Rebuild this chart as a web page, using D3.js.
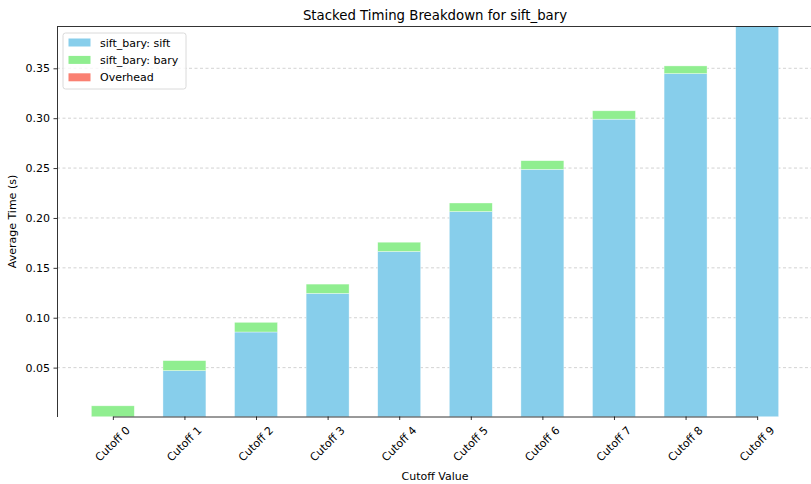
<!DOCTYPE html>
<html>
<head>
<meta charset="utf-8">
<script src="https://cdn.jsdelivr.net/npm/d3@7"></script>
<style>
  html, body { margin: 0; padding: 0; background: #fff; }
  svg { display: block; font-family: "DejaVu Sans", sans-serif; }
</style>
</head>
<body>
<svg id="chart" width="811" height="484"></svg>
<script>
// Average time per cutoff, split into stacked components
const categories = ["Cutoff 0", "Cutoff 1", "Cutoff 2", "Cutoff 3", "Cutoff 4",
                    "Cutoff 5", "Cutoff 6", "Cutoff 7", "Cutoff 8", "Cutoff 9"];
const siftValues  = [0.0, 0.047, 0.0857, 0.1244, 0.1664, 0.2064, 0.2487, 0.299, 0.3447, 0.400];
const baryValues  = [0.0117, 0.010, 0.0097, 0.0093, 0.0093, 0.0086, 0.0087, 0.0084, 0.0077, 0.008];
const overheadValues = [0, 0, 0, 0, 0, 0, 0, 0, 0, 0];
const yTicks = [0.05, 0.10, 0.15, 0.20, 0.25, 0.30, 0.35];

const seriesNames = ["sift_bary: sift", "sift_bary: bary", "Overhead"];
const seriesColors = ["#87CEEB", "#90EE90", "#FA8072"];

const rows = categories.map((c, i) => ({
  cat: c, s0: siftValues[i], s1: baryValues[i], s2: overheadValues[i]
}));
const stacked = d3.stack().keys(["s0", "s1", "s2"])(rows);

const svg = d3.select("#chart");
const plotLeft = 57, plotRight = 813, plotTop = 26.5, plotBottom = 416.5;

// Category positions: bar width is 0.6 of the step, with 0.78 step margin each side
const step = (plotRight - plotLeft) / (categories.length - 1 + 2 * 0.78);
const x = d3.scalePoint().domain(categories)
  .range([plotLeft + 0.78 * step, plotRight - 0.78 * step]);
const barW = 0.6 * step;

const y = d3.scaleLinear().domain([0.001, 0.3919]).range([plotBottom, plotTop]);

// Title
svg.append("text").attr("x", (plotLeft + plotRight) / 2).attr("y", 20)
  .attr("text-anchor", "middle").attr("font-size", 13.3).attr("fill", "#000")
  .text("Stacked Timing Breakdown for sift_bary");

// Grid
svg.append("g").selectAll("line").data(yTicks).join("line")
  .attr("x1", plotLeft).attr("x2", plotRight)
  .attr("y1", d => y(d)).attr("y2", d => y(d))
  .attr("stroke", "#b0b0b0").attr("stroke-opacity", 0.7)
  .attr("stroke-width", 0.8).attr("stroke-dasharray", "3,2.5");

// Bars
svg.append("defs").append("clipPath").attr("id", "plotClip")
  .append("rect").attr("x", plotLeft).attr("y", plotTop)
  .attr("width", plotRight - plotLeft).attr("height", plotBottom - plotTop);

const barsG = svg.append("g").attr("clip-path", "url(#plotClip)");
stacked.forEach((layer, li) => {
  barsG.append("g").selectAll("rect").data(layer).join("rect")
    .attr("x", d => x(d.data.cat) - barW / 2)
    .attr("width", barW)
    .attr("y", d => y(d[1]))
    .attr("height", d => Math.max(0, y(d[0]) - y(d[1])))
    .attr("fill", seriesColors[li])
    .attr("stroke", "#ffffff").attr("stroke-opacity", 0.6).attr("stroke-width", 0.6);
});

// Y axis
const yAxis = svg.append("g").attr("transform", `translate(${plotLeft},0)`)
  .call(d3.axisLeft(y).tickValues(yTicks).tickFormat(d3.format(".2f"))
    .tickSize(3.5).tickSizeOuter(0).tickPadding(3.5));
yAxis.attr("font-family", "DejaVu Sans, sans-serif");
yAxis.select(".domain").attr("stroke", "#000").attr("stroke-width", 0.8);
yAxis.selectAll(".tick line").attr("stroke", "#000").attr("stroke-width", 0.8);
yAxis.selectAll(".tick text").attr("font-size", 11).attr("fill", "#000");

// X axis
const xAxis = svg.append("g").attr("transform", `translate(0,${plotBottom})`)
  .call(d3.axisBottom(x).tickSize(3.5).tickSizeOuter(0).tickFormat(""));
xAxis.select(".domain").attr("stroke", "#000").attr("stroke-width", 0.8);
xAxis.selectAll(".tick line").attr("stroke", "#000").attr("stroke-width", 0.8);

svg.append("g").selectAll("text").data(categories).join("text")
  .attr("transform", d => `translate(${x(d)},${plotBottom + 27.5}) rotate(-45)`)
  .attr("text-anchor", "middle").attr("dominant-baseline", "central")
  .attr("font-size", 11).attr("fill", "#000").text(d => d);

// Top spine
svg.append("line").attr("x1", plotLeft).attr("x2", plotRight).attr("y1", plotTop).attr("y2", plotTop)
  .attr("stroke", "#000").attr("stroke-width", 0.8);

// Axis labels
svg.append("text").attr("x", (plotLeft + plotRight) / 2).attr("y", 480)
  .attr("text-anchor", "middle").attr("font-size", 11).attr("fill", "#000").text("Cutoff Value");
svg.append("text").attr("transform", `translate(16,${(plotTop + plotBottom) / 2}) rotate(-90)`)
  .attr("text-anchor", "middle").attr("font-size", 11).attr("fill", "#000").text("Average Time (s)");

// Legend
const lg = svg.append("g").attr("transform", "translate(63,33)");
lg.append("rect").attr("width", 123).attr("height", 56).attr("rx", 2.5)
  .attr("fill", "#fff").attr("fill-opacity", 0.8).attr("stroke", "#d0d0d0").attr("stroke-width", 0.8);
seriesNames.forEach((name, i) => {
  const ry = 10 + i * 17.4;
  lg.append("rect").attr("x", 5.5).attr("y", ry - 4.5).attr("width", 22).attr("height", 8)
    .attr("fill", seriesColors[i]);
  lg.append("text").attr("x", 37).attr("y", ry).attr("dominant-baseline", "central")
    .attr("font-size", 11).attr("fill", "#000").text(name);
});
</script>
</body>
</html>
